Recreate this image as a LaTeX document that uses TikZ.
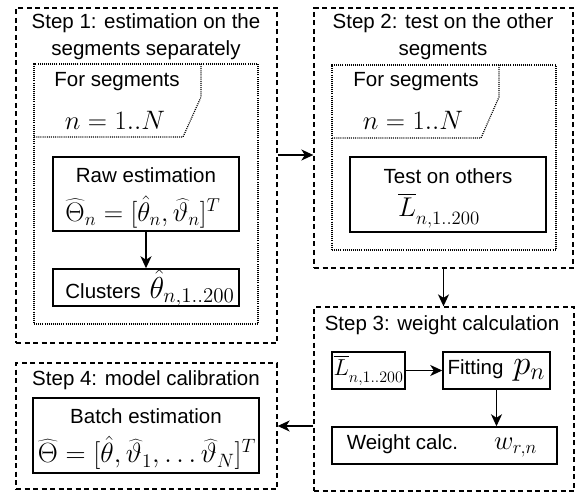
\documentclass[tikz,border=0pt]{standalone}
\usepackage{graphicx}
\usepackage[no-math]{fontspec}
\setmainfont{Liberation Sans}
\usetikzlibrary{arrows.meta}

% a formula brought to a given width
\newcommand\mw[2]{\resizebox{#1pt}{!}{$#2$}}
% L with a bar set clear above it
\newcommand\Lbar{\overline{L\mathstrut}}

\tikzset{
  stepframe/.style={draw, line width=1.3pt, dash pattern=on 5pt off 3.5pt, inner sep=0pt},
  loopframe/.style={draw, line width=1.2pt, dash pattern=on 1pt off 1.1pt, inner sep=0pt},
  loopline/.style={line width=1.2pt, dash pattern=on 1pt off 1.1pt},
  taskbox/.style={draw, line width=1.5pt, inner sep=0pt, align=center},
  lbl/.style={inner sep=0pt, align=center},
  arr/.style={line width=1.5pt, -{Stealth[length=12pt,width=11pt,inset=3.5pt]}},
}

\begin{document}
\begin{tikzpicture}[x=1pt,y=-1pt,font=\fontsize{20.5}{27}\selectfont]
\useasboundingbox (0,0) rectangle (576,492);

% ---------- Step 1 ----------
\node[stepframe, minimum width=261pt, minimum height=335pt] (s1) at (146.5,175.5) {};
\node[lbl] (s1t) at (146,36.5) {Step 1: estimation on the\\segments separately};
\node[loopframe, minimum width=224pt, minimum height=260pt] (l1) at (146,194) {};
\draw[loopline] (201,64) -- (201,97) -- (183,137) -- (34,137);
\node[lbl] (l1a) at (117,82) {For segments};
\node[lbl] (l1b) at (115,120) {\mw{100}{n=1..N}};
\node[taskbox, minimum width=186pt, minimum height=74pt] (raw) at (146,194) {};
\node[lbl] (rawa) at (146,175) {Raw estimation};
\node[lbl] (rawb) at (143,212) {\mw{155}{\widehat{\Theta}_n=[\hat{\theta}_n,\widehat{\vartheta}_n]^T}};
\node[taskbox, minimum width=186pt, minimum height=37pt] (clu) at (146,287.5) {};
\node[lbl] (clut) at (150,288) {Clusters\hspace{9pt}\mw{85}{\hat{\theta}_{n,1..200}}};

% ---------- Step 2 ----------
\node[stepframe, minimum width=259pt, minimum height=260pt] (s2) at (443.5,138) {};
\node[lbl] (s2t) at (443,36.5) {Step 2: test on the other\\segments};
\node[loopframe, minimum width=224pt, minimum height=185pt] (l2) at (444,157.5) {};
\draw[loopline] (499,65) -- (499,97) -- (481,138) -- (332,138);
\node[lbl] (l2a) at (416,82) {For segments};
\node[lbl] (l2b) at (413,120) {\mw{100}{n=1..N}};
\node[taskbox, minimum width=196pt, minimum height=75pt] (tst) at (448,194.5) {};
\node[lbl] (tsta) at (448,176) {Test on others};
\node[lbl] (tstb) at (439,211) {\mw{82}{\Lbar_{n,1..200}}};

% ---------- Step 3 ----------
\node[stepframe, minimum width=260pt, minimum height=184pt] (s3) at (444,399) {};
\node[lbl] (s3t) at (442,325) {Step 3: weight calculation};
\node[taskbox, minimum width=73pt, minimum height=37pt] (lb) at (368.5,370.5) {\mw{70}{\Lbar_{n,1..200}}};
\node[taskbox, minimum width=107pt, minimum height=37pt] (fit) at (496.5,370.5) {Fitting\hspace{10pt}\mw{32}{p_n}};
\node[taskbox, minimum width=225pt, minimum height=37pt] (wgt) at (444.5,445.5) {};
\node[lbl] (wgtt) at (442,446) {Weight calc.\hspace{36pt}\mw{43}{w_{r,n}}};

% ---------- Step 4 ----------
\node[stepframe, minimum width=261pt, minimum height=126pt] (s4) at (146.5,426) {};
\node[lbl] (s4t) at (146,380) {Step 4: model calibration};
\node[taskbox, minimum width=226pt, minimum height=75pt] (bat) at (146,435.5) {};
\node[lbl] (bata) at (146,416) {Batch estimation};
\node[lbl] (batb) at (147,453) {\mw{218}{\widehat{\Theta}=[\hat{\theta},\widehat{\vartheta}_1,\ldots\widehat{\vartheta}_N]^T}};

% ---------- connectors ----------
\coordinate (y12) at (0,155);
\draw[arr] (raw.south) -- (clu.north);
\draw[arr] (s1.east |- y12) -- (s2.west |- y12);
\draw[arr] (s2.south) -- (s2.south |- s3.north);
\draw[arr] (lb.east) -- (fit.west);
\draw[arr] (fit.south) -- (fit.south |- wgt.north);
\draw[arr] (s3.west |- s4.east) -- (s4.east);
\end{tikzpicture}
\end{document}
